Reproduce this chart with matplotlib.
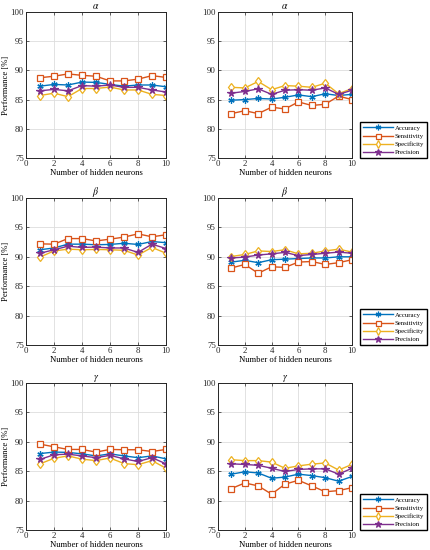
import matplotlib
matplotlib.use('Agg')
import matplotlib.pyplot as plt

plt.rcParams['font.family'] = ['Liberation Serif', 'DejaVu Serif']
plt.rcParams['mathtext.fontset'] = 'stix'

neurons = [1, 2, 3, 4, 5, 6, 7, 8, 9, 10]
names = ['Accuracy', 'Sensitivity', 'Specificity', 'Precision']
titles = [r'$\alpha$', r'$\alpha$', r'$\beta$', r'$\beta$', r'$\gamma$', r'$\gamma$']

# alpha, left
acc_a1 = [87.3, 87.6, 87.5, 88.0, 87.95, 87.6, 87.3, 87.5, 87.5, 87.2]
sen_a1 = [88.75, 89.0, 89.4, 89.15, 89.0, 88.2, 88.2, 88.5, 89.1, 88.8]
spe_a1 = [85.7, 86.1, 85.5, 86.9, 86.9, 87.15, 86.65, 86.65, 85.9, 85.7]
pre_a1 = [86.5, 86.75, 86.5, 87.4, 87.3, 87.5, 87.1, 87.1, 86.65, 86.3]
# alpha, right
acc_a2 = [84.9, 85.0, 85.2, 85.1, 85.4, 85.8, 85.5, 86.0, 85.7, 85.9]
sen_a2 = [82.6, 83.1, 82.6, 83.7, 83.4, 84.6, 84.0, 84.2, 85.6, 85.0]
spe_a2 = [87.1, 87.0, 88.1, 86.7, 87.4, 87.3, 87.1, 87.8, 86.0, 86.9]
pre_a2 = [86.1, 86.4, 86.85, 85.9, 86.6, 86.7, 86.6, 87.0, 85.9, 86.6]
# beta, left
acc_b1 = [91.2, 91.5, 92.15, 92.15, 92.05, 92.1, 92.3, 92.1, 92.6, 92.4]
sen_b1 = [92.2, 92.15, 93.1, 93.1, 92.7, 93.0, 93.35, 93.9, 93.4, 93.75]
spe_b1 = [89.95, 91.0, 91.3, 91.2, 91.25, 91.2, 91.1, 90.3, 91.6, 90.6]
pre_b1 = [90.6, 91.2, 91.8, 91.6, 91.65, 91.5, 91.5, 90.75, 92.15, 91.4]
# beta, right
acc_b2 = [89.1, 89.4, 89.0, 89.5, 89.6, 89.7, 89.8, 89.8, 90.0, 90.0]
sen_b2 = [88.1, 88.7, 87.2, 88.3, 88.2, 89.1, 89.2, 88.7, 89.0, 89.5]
spe_b2 = [90.05, 90.4, 91.0, 90.9, 91.2, 90.5, 90.6, 91.0, 91.3, 90.8]
pre_b2 = [89.8, 89.95, 90.3, 90.5, 90.75, 90.2, 90.4, 90.6, 90.8, 90.6]
# gamma, left
acc_g1 = [88.0, 88.25, 88.2, 87.95, 87.6, 87.95, 87.6, 87.3, 87.6, 87.1]
sen_g1 = [89.6, 89.15, 88.7, 88.7, 88.25, 88.7, 88.65, 88.65, 88.35, 88.7]
spe_g1 = [86.25, 87.2, 87.6, 87.05, 86.8, 87.25, 86.3, 86.1, 86.8, 85.5]
pre_g1 = [87.0, 87.8, 87.9, 87.6, 87.3, 87.7, 87.1, 86.65, 87.3, 86.25]
# gamma, right
acc_g2 = [84.5, 84.9, 84.7, 83.8, 84.0, 84.5, 84.25, 83.9, 83.3, 84.1]
sen_g2 = [82.05, 83.0, 82.5, 81.1, 82.8, 83.45, 82.5, 81.5, 81.7, 82.2]
spe_g2 = [86.95, 86.8, 86.8, 86.55, 85.5, 85.9, 86.2, 86.4, 85.2, 86.15]
pre_g2 = [86.25, 86.15, 86.0, 85.5, 84.95, 85.3, 85.4, 85.4, 84.5, 85.5]

panels = [
    [acc_a1, sen_a1, spe_a1, pre_a1],
    [acc_a2, sen_a2, spe_a2, pre_a2],
    [acc_b1, sen_b1, spe_b1, pre_b1],
    [acc_b2, sen_b2, spe_b2, pre_b2],
    [acc_g1, sen_g1, spe_g1, pre_g1],
    [acc_g2, sen_g2, spe_g2, pre_g2],
]

colors = ['#0072BD', '#D95319', '#EDB120', '#7E2F8E']
markers = [(6, 2, 0), 's', 'd', '*']
msizes = [4.5, 4, 4.5, 5.5]

fig = plt.figure(figsize=(4.3, 5.5), dpi=100)

lefts = [26 / 430, 218 / 430]
widths = [140 / 430, 134 / 430]
tops = [12, 198, 383]
bots = [158, 345, 530]

for k, data in enumerate(panels):
    r, c = k // 2, k % 2
    ax = fig.add_axes([lefts[c], 1 - bots[r] / 550, widths[c], (bots[r] - tops[r]) / 550])
    for j in range(4):
        face = colors[j] if j in (0, 3) else 'white'
        ax.plot(neurons, data[j], color=colors[j], marker=markers[j], markersize=msizes[j],
                markerfacecolor=face, markeredgecolor=colors[j], markeredgewidth=0.9,
                linewidth=1.0, label=names[j])
    ax.set_xlim(0, 10)
    ax.set_ylim(75, 100)
    ax.set_xticks(range(0, 11, 2))
    ax.set_yticks(range(75, 101, 5))
    ax.grid(True, color='#dddddd', linewidth=0.6)
    ax.set_axisbelow(True)
    ax.tick_params(direction='in', top=True, right=True, labelsize=6.3, length=2.5,
                   width=0.5, pad=1.5, colors='#262626')
    for s in ax.spines.values():
        s.set_linewidth(0.7)
        s.set_color('#262626')
    ax.set_title(titles[k], fontsize=7, pad=2)
    ax.set_xlabel('Number of hidden neurons', fontsize=6.2, labelpad=1)
    if c == 0:
        ax.set_ylabel('Performance [%]', fontsize=6.2, labelpad=0)
    else:
        fig.legend(*ax.get_legend_handles_labels(), loc='lower right',
                   bbox_to_anchor=(427 / 430, 1 - bots[r] / 550),
                   fontsize=4.9, handlelength=4.4, borderpad=0.4, labelspacing=0.35,
                   handletextpad=0.35, fancybox=False, edgecolor='black', framealpha=1,
                   borderaxespad=0, markerscale=0.9)

fig.savefig('out.png', dpi=100)
